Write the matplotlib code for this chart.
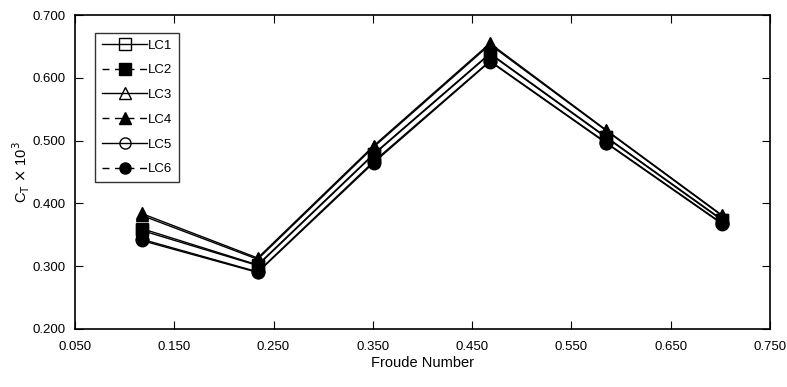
import matplotlib
matplotlib.use('Agg')
import matplotlib.pyplot as plt
from matplotlib.lines import Line2D

plt.rcParams['font.family'] = ['Liberation Sans Narrow', 'Liberation Sans', 'DejaVu Sans']

froude = [0.117, 0.234, 0.351, 0.468, 0.585, 0.702]
lc1 = [0.357, 0.301, 0.478, 0.638, 0.505, 0.373]
lc2 = [0.360, 0.302, 0.479, 0.639, 0.506, 0.374]
lc3 = [0.381, 0.311, 0.490, 0.653, 0.516, 0.380]
lc4 = [0.384, 0.313, 0.492, 0.655, 0.517, 0.381]
lc5 = [0.343, 0.291, 0.467, 0.627, 0.497, 0.368]
lc6 = [0.341, 0.290, 0.465, 0.626, 0.496, 0.367]
names = ['LC1', 'LC2', 'LC3', 'LC4', 'LC5', 'LC6']
series = [lc1, lc2, lc3, lc4, lc5, lc6]
marks = ['s', 's', '^', '^', 'o', 'o']
fills = ['none', 'k', 'none', 'k', 'none', 'k']
styles = ['-', (0, (5, 4)), '-', (0, (5, 4)), '-', (0, (5, 4))]

fig = plt.figure(figsize=(7.87, 3.87), dpi=100)
ax = fig.add_axes([0.0953, 0.150, 0.883, 0.811])

# lines first, then all markers drawn filled on top
for ys in series:
    ax.plot(froude, ys, '-', color='k', lw=1)
for ys, m in zip(series, marks):
    ax.plot(froude, ys, ls='none', marker=m, ms=9, mfc='k', mec='k')

handles = []
for m, f, s in zip(marks, fills, styles):
    handles.append(Line2D([], [], color='k', lw=1, ls=s, marker=m, ms=8,
                          mfc=f, mec='k'))
leg = ax.legend(handles, names, loc='upper left', bbox_to_anchor=(0.02, 0.965),
                frameon=True, fancybox=False, edgecolor='k', fontsize=9.5,
                handlelength=3.4, handletextpad=0.1, labelspacing=0.95,
                borderpad=0.5)
leg.get_frame().set_linewidth(1)

ax.set_xlim(0.05, 0.75)
ax.set_ylim(0.2, 0.7)
ax.set_xticks([0.05, 0.15, 0.25, 0.35, 0.45, 0.55, 0.65, 0.75])
ax.set_yticks([0.2, 0.3, 0.4, 0.5, 0.6, 0.7])
ax.set_xticklabels(['%.3f' % v for v in ax.get_xticks()])
ax.set_yticklabels(['%.3f' % v for v in ax.get_yticks()])
ax.tick_params(direction='in', top=True, right=True, length=6, labelsize=9.5)
ax.tick_params(axis='x', pad=9)
ax.tick_params(axis='y', pad=7)
for sp in ax.spines.values():
    sp.set_linewidth(1.2)
ax.set_xlabel('Froude Number', fontsize=10.5, labelpad=2)
ax.set_ylabel(r'C$_{\rm T}$ $\times$ 10$^{3}$', fontsize=10.5, labelpad=0)

fig.savefig('out.png', dpi=100)
